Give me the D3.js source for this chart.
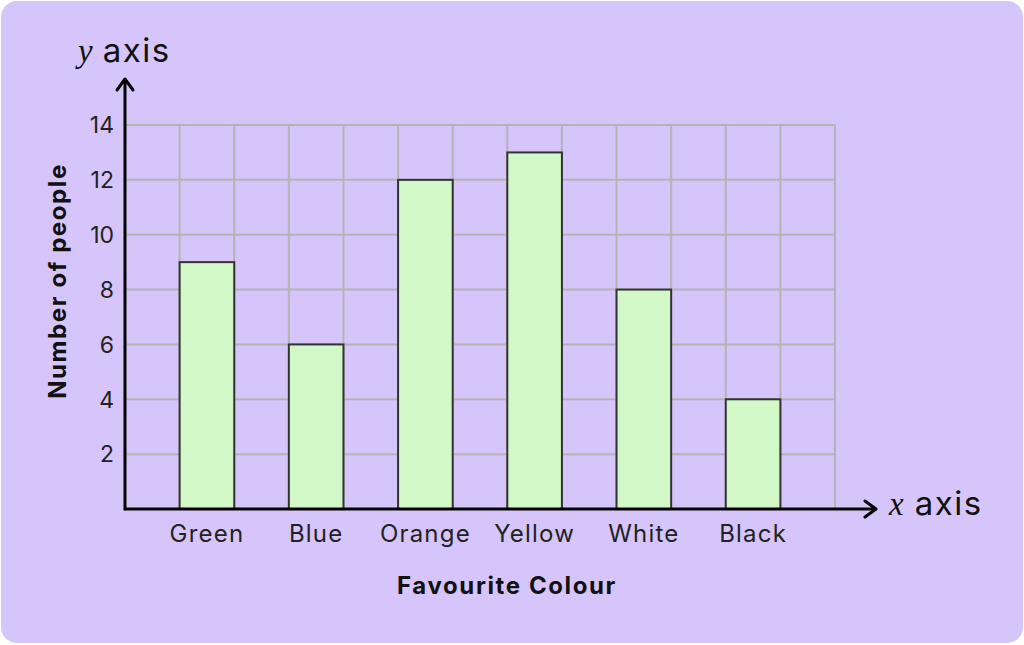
<!DOCTYPE html>
<html>
<head>
<meta charset="utf-8">
<script src="https://cdn.jsdelivr.net/npm/d3@7"></script>
<style>
  html, body { margin: 0; padding: 0; background: #fff; }
  svg { display: block; }
</style>
</head>
<body>
<svg width="1024" height="645"></svg>
<script>
// chart data
var colours = ["Green", "Blue", "Orange", "Yellow", "White", "Black"];
var people = [9, 6, 12, 13, 8, 4];
var yTicks = [2, 4, 6, 8, 10, 12, 14];

var svg = d3.select("svg"),
    width = +svg.attr("width"),
    height = +svg.attr("height");

var font = "Inter, 'Open Sans', sans-serif";

// card background
svg.append("rect")
    .attr("x", 1).attr("y", 1)
    .attr("width", width - 2).attr("height", height - 3)
    .attr("rx", 16)
    .attr("fill", "#d5c5fa");

var plotL = 125, plotR = 835, plotT = 125, plotB = 509;

// 13 slots: bars sit in every odd slot
var slots = d3.range(13);
var x = d3.scaleBand().domain(slots).range([plotL, plotR]).padding(0);
var y = d3.scaleLinear().domain([0, 14]).range([plotB, plotT]);

var grid = svg.append("g")
    .attr("stroke", "#b4b4b4")
    .attr("stroke-width", 2);

grid.selectAll("line.v")
    .data(d3.range(1, 14))
    .enter().append("line")
    .attr("x1", function(d) { return plotL + d * x.bandwidth(); })
    .attr("x2", function(d) { return plotL + d * x.bandwidth(); })
    .attr("y1", y(14)).attr("y2", y(0));

grid.selectAll("line.h")
    .data(yTicks)
    .enter().append("line")
    .attr("x1", plotL).attr("x2", plotR)
    .attr("y1", function(d) { return y(d); })
    .attr("y2", function(d) { return y(d); });

// bars
svg.append("g").selectAll("rect")
    .data(people)
    .enter().append("rect")
    .attr("x", function(d, i) { return x(2 * i + 1); })
    .attr("y", function(d) { return y(d); })
    .attr("width", x.bandwidth())
    .attr("height", function(d) { return y(0) - y(d); })
    .attr("fill", "#d3f8c8")
    .attr("stroke", "#333")
    .attr("stroke-width", 2);

// y tick labels
svg.append("g").selectAll("text")
    .data(yTicks)
    .enter().append("text")
    .attr("x", plotL - 11)
    .attr("y", function(d) { return y(d); })
    .attr("dy", "0.36em")
    .attr("text-anchor", "end")
    .attr("font-family", font)
    .attr("font-size", 23)
    .attr("fill", "#222")
    .text(function(d) { return d; });

// category labels
svg.append("g").selectAll("text")
    .data(colours)
    .enter().append("text")
    .attr("x", function(d, i) { return x(2 * i + 1) + x.bandwidth() / 2; })
    .attr("y", plotB + 33)
    .attr("text-anchor", "middle")
    .attr("font-family", font)
    .attr("font-size", 24)
    .attr("letter-spacing", 1.2)
    .attr("fill", "#222")
    .text(function(d) { return d; });

// axes with arrows
var axes = svg.append("g")
    .attr("stroke", "#000")
    .attr("stroke-width", 3)
    .attr("fill", "none")
    .attr("stroke-linecap", "round")
    .attr("stroke-linejoin", "round");

axes.append("path").attr("d", "M" + plotL + "," + plotB + "V80");
axes.append("path").attr("d", "M" + (plotL - 8) + ",90L" + plotL + ",79L" + (plotL + 8) + ",90");
axes.append("path").attr("d", "M" + plotL + "," + plotB + "H875");
axes.append("path").attr("d", "M865," + (plotB - 8) + "L876," + plotB + "L865," + (plotB + 8));

// axis names
var yName = svg.append("text")
    .attr("x", 78).attr("y", 62)
    .attr("font-size", 33)
    .attr("fill", "#111");
yName.append("tspan").attr("font-family", "'Liberation Serif', serif").attr("font-style", "italic").text("y");
yName.append("tspan").attr("font-family", font).attr("dx", 10).attr("letter-spacing", 1.5).text("axis");

var xName = svg.append("text")
    .attr("x", 889).attr("y", 515)
    .attr("font-size", 33)
    .attr("fill", "#111");
xName.append("tspan").attr("font-family", "'Liberation Serif', serif").attr("font-style", "italic").text("x");
xName.append("tspan").attr("font-family", font).attr("dx", 11).attr("letter-spacing", 1.5).text("axis");

// titles
svg.append("text")
    .attr("transform", "translate(66,281) rotate(-90)")
    .attr("text-anchor", "middle")
    .attr("font-family", font)
    .attr("font-weight", "bold")
    .attr("font-size", 24)
    .attr("letter-spacing", 1.6)
    .attr("fill", "#111")
    .text("Number of people");

svg.append("text")
    .attr("x", 507).attr("y", 594)
    .attr("text-anchor", "middle")
    .attr("font-family", font)
    .attr("font-weight", "bold")
    .attr("font-size", 24)
    .attr("letter-spacing", 1.6)
    .attr("fill", "#111")
    .text("Favourite Colour");
</script>
</body>
</html>
